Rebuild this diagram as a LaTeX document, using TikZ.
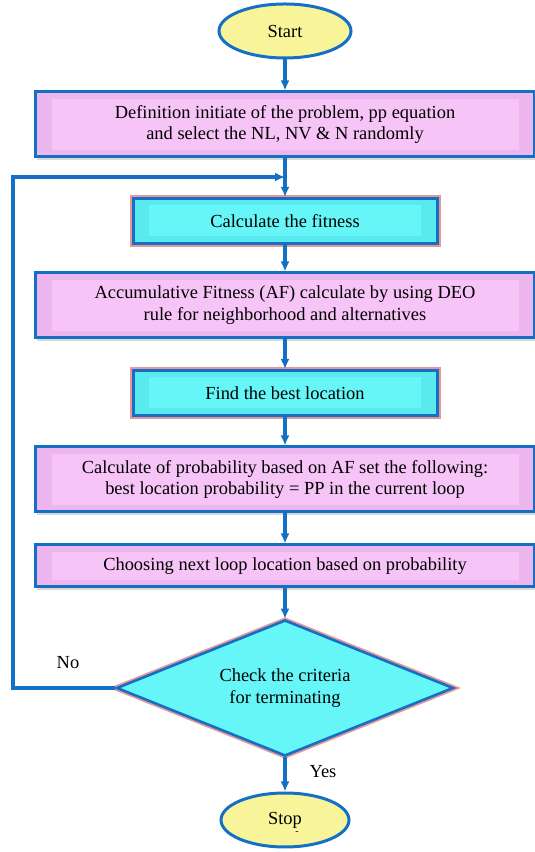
\documentclass[tikz,border=0pt]{standalone}
\usepackage{fontspec}
\setmainfont{Liberation Serif}
\usepackage{tikz}
\usetikzlibrary{arrows,arrows.meta,shapes,shadows}
\definecolor{flowblue}{RGB}{20,112,196}
\definecolor{boxpink}{RGB}{246,196,246}
\definecolor{bevelpink}{RGB}{238,182,238}
\definecolor{boxcyan}{RGB}{102,246,247}
\definecolor{bevelcyan}{RGB}{88,234,238}
\definecolor{endyellow}{RGB}{248,244,154}
\definecolor{glowred}{RGB}{232,150,150}
\tikzset{
  termnode/.style={ellipse, draw=flowblue, line width=3bp, fill=endyellow, inner sep=0pt},
  pinkbox/.style={rectangle, draw=flowblue, line width=3bp, fill=bevelpink, minimum width=499bp,
    align=center, drop shadow={shadow xshift=1bp, shadow yshift=-3bp, opacity=.3},
    path picture={\fill[boxpink] ([xshift=16bp,yshift=-7bp]path picture bounding box.north west) rectangle ([xshift=-16bp,yshift=7bp]path picture bounding box.south east);}},
  cyanbox/.style={rectangle, draw=flowblue, line width=3bp, fill=bevelcyan, minimum width=304bp, minimum height=45bp,
    preaction={draw=glowred, line width=7bp},
    path picture={\fill[boxcyan] ([xshift=16bp,yshift=-7bp]path picture bounding box.north west) rectangle ([xshift=-16bp,yshift=7bp]path picture bounding box.south east);}},
  testnode/.style={diamond, draw=flowblue, line width=2.6bp, fill=boxcyan, aspect=2.48, inner sep=0pt,
    minimum width=337bp, minimum height=136bp, align=center, preaction={draw=glowred, line width=6bp}},
  flow/.style={->, draw=flowblue, line width=3.4bp}
}
\begin{document}
\begin{tikzpicture}[>={Latex[length=10bp,width=9bp]}]
      \tikzstyle{every node}=[font=\fontsize{18.5}{22}\selectfont]
      \useasboundingbox (0bp,0bp) rectangle (535bp,852bp);
      %%
  \node (start) at (285bp,821bp) [termnode, minimum width=132bp, minimum height=54bp] {Start};
  \node (init) at (285bp,727.5bp) [pinkbox, minimum height=65bp] {Definition initiate of the problem, pp equation\\and select the NL, NV \& N randomly};
  \node (fit) at (285bp,631bp) [cyanbox] {Calculate the fitness};
  \node (accfit) at (285bp,546.5bp) [pinkbox, minimum height=65bp] {Accumulative Fitness (AF) calculate by using DEO\\rule for neighborhood and alternatives};
  \node (best) at (285bp,459bp) [cyanbox] {Find the best location};
  \node (prob) at (285bp,372.5bp) [pinkbox, minimum height=65bp] {Calculate of probability based on AF set the following:\\best location probability = PP in the current loop};
  \node (choose) at (285bp,286bp) [pinkbox, minimum height=42bp] {Choosing next loop location based on probability};
  \node (check) at (285bp,164bp) [testnode] {Check the criteria\\for terminating};
  \node (stop) at (285bp,32bp) [termnode, minimum width=128bp, minimum height=54bp] {Stop};
  \node (no) at (68bp,189bp) {No};
  \node (yes) at (323bp,80bp) {Yes};
  \node (tick) at (297bp,19bp) [font=\fontsize{10}{10}\selectfont] {-};
  \coordinate (join) at (285bp,675bp);
  \coordinate (corner) at (13bp,164bp);
  \draw [flow] (start) -- (init);
  \draw [flow] (init) -- (fit);
  \draw [flow] (fit) -- (accfit);
  \draw [flow] (accfit) -- (best);
  \draw [flow] (best) -- (prob);
  \draw [flow] (prob) -- (choose);
  \draw [flow] (choose) -- (check);
  \draw [flow] (check) -- (stop);
  \draw [flow] (check.west) -- (corner) |- (join);
%

    \end{tikzpicture}
\end{document}
